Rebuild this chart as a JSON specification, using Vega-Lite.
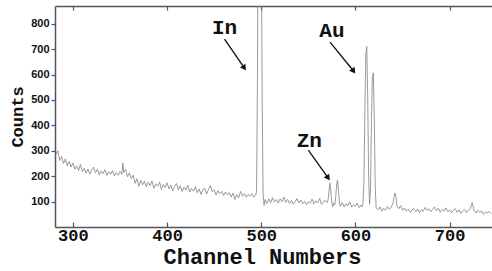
{
  "$schema": "https://vega.github.io/schema/vega-lite/v6.json",
  "width": 437,
  "height": 221,
  "autosize": {"type": "none"},
  "padding": {"left": 55, "top": 6, "right": 0, "bottom": 44},
  "background": "white",
  "config": {"view": {"stroke": null}},
  "datasets": {
    "spectrum": [
      {"ch":282,"counts":285},{"ch":284,"counts":300},{"ch":286,"counts":262},{"ch":288,"counts":278},{"ch":290,"counts":250},
      {"ch":292,"counts":268},{"ch":294,"counts":241},{"ch":296,"counts":258},{"ch":298,"counts":236},{"ch":300,"counts":252},
      {"ch":302,"counts":228},{"ch":304,"counts":240},{"ch":306,"counts":222},{"ch":308,"counts":246},{"ch":310,"counts":218},
      {"ch":312,"counts":231},{"ch":314,"counts":212},{"ch":316,"counts":228},{"ch":318,"counts":208},{"ch":320,"counts":224},
      {"ch":322,"counts":236},{"ch":324,"counts":214},{"ch":326,"counts":227},{"ch":328,"counts":205},{"ch":330,"counts":221},
      {"ch":332,"counts":210},{"ch":334,"counts":226},{"ch":336,"counts":203},{"ch":338,"counts":218},{"ch":340,"counts":207},
      {"ch":342,"counts":222},{"ch":344,"counts":201},{"ch":346,"counts":214},{"ch":348,"counts":204},{"ch":350,"counts":218},
      {"ch":352,"counts":208},{"ch":353,"counts":252},{"ch":354,"counts":215},{"ch":356,"counts":226},{"ch":358,"counts":198},
      {"ch":360,"counts":213},{"ch":362,"counts":191},{"ch":364,"counts":204},{"ch":366,"counts":172},{"ch":368,"counts":190},
      {"ch":370,"counts":160},{"ch":372,"counts":183},{"ch":374,"counts":166},{"ch":376,"counts":180},{"ch":378,"counts":158},
      {"ch":380,"counts":176},{"ch":382,"counts":163},{"ch":384,"counts":181},{"ch":386,"counts":152},{"ch":388,"counts":170},
      {"ch":390,"counts":160},{"ch":392,"counts":177},{"ch":394,"counts":148},{"ch":396,"counts":168},{"ch":398,"counts":155},
      {"ch":400,"counts":174},{"ch":402,"counts":150},{"ch":404,"counts":165},{"ch":406,"counts":142},{"ch":408,"counts":160},
      {"ch":410,"counts":171},{"ch":412,"counts":146},{"ch":414,"counts":162},{"ch":416,"counts":140},{"ch":418,"counts":157},
      {"ch":420,"counts":145},{"ch":422,"counts":164},{"ch":424,"counts":138},{"ch":426,"counts":152},{"ch":428,"counts":141},
      {"ch":430,"counts":158},{"ch":432,"counts":135},{"ch":434,"counts":150},{"ch":436,"counts":128},{"ch":438,"counts":147},
      {"ch":440,"counts":152},{"ch":442,"counts":130},{"ch":444,"counts":148},{"ch":446,"counts":163},{"ch":448,"counts":139},
      {"ch":450,"counts":147},{"ch":452,"counts":126},{"ch":454,"counts":143},{"ch":456,"counts":131},{"ch":458,"counts":140},
      {"ch":460,"counts":124},{"ch":462,"counts":138},{"ch":464,"counts":127},{"ch":466,"counts":135},{"ch":468,"counts":118},
      {"ch":470,"counts":133},{"ch":472,"counts":108},{"ch":474,"counts":128},{"ch":476,"counts":115},{"ch":478,"counts":140},
      {"ch":480,"counts":121},{"ch":482,"counts":131},{"ch":484,"counts":117},{"ch":486,"counts":128},{"ch":488,"counts":121},
      {"ch":490,"counts":132},{"ch":492,"counts":118},{"ch":494,"counts":125},{"ch":495,"counts":140},{"ch":496,"counts":600},
      {"ch":497,"counts":1600},{"ch":498,"counts":1900},{"ch":499,"counts":1800},{"ch":500,"counts":1200},{"ch":501,"counts":500},
      {"ch":502,"counts":130},{"ch":503,"counts":85},{"ch":504,"counts":108},{"ch":506,"counts":92},{"ch":508,"counts":110},
      {"ch":510,"counts":96},{"ch":512,"counts":115},{"ch":514,"counts":99},{"ch":516,"counts":108},{"ch":518,"counts":94},
      {"ch":520,"counts":111},{"ch":522,"counts":100},{"ch":524,"counts":118},{"ch":526,"counts":97},{"ch":528,"counts":109},
      {"ch":530,"counts":93},{"ch":532,"counts":104},{"ch":534,"counts":90},{"ch":536,"counts":99},{"ch":538,"counts":112},
      {"ch":540,"counts":95},{"ch":542,"counts":106},{"ch":544,"counts":92},{"ch":546,"counts":101},{"ch":548,"counts":88},
      {"ch":550,"counts":99},{"ch":552,"counts":94},{"ch":554,"counts":110},{"ch":556,"counts":90},{"ch":558,"counts":103},
      {"ch":560,"counts":95},{"ch":562,"counts":112},{"ch":564,"counts":89},{"ch":566,"counts":100},{"ch":568,"counts":104},
      {"ch":570,"counts":96},{"ch":571,"counts":108},{"ch":572,"counts":145},{"ch":573,"counts":173},{"ch":574,"counts":135},
      {"ch":575,"counts":92},{"ch":576,"counts":80},{"ch":577,"counts":95},{"ch":578,"counts":88},{"ch":579,"counts":115},
      {"ch":580,"counts":165},{"ch":581,"counts":185},{"ch":582,"counts":145},{"ch":583,"counts":95},{"ch":584,"counts":82},
      {"ch":586,"counts":96},{"ch":588,"counts":79},{"ch":590,"counts":91},{"ch":592,"counts":84},{"ch":594,"counts":99},
      {"ch":596,"counts":78},{"ch":598,"counts":88},{"ch":600,"counts":82},{"ch":602,"counts":94},{"ch":604,"counts":76},
      {"ch":606,"counts":86},{"ch":607,"counts":80},{"ch":608,"counts":92},{"ch":609,"counts":180},{"ch":610,"counts":450},
      {"ch":611,"counts":680},{"ch":612,"counts":710},{"ch":613,"counts":520},{"ch":614,"counts":200},{"ch":615,"counts":90},
      {"ch":616,"counts":150},{"ch":617,"counts":420},{"ch":618,"counts":590},{"ch":619,"counts":607},{"ch":620,"counts":430},
      {"ch":621,"counts":160},{"ch":622,"counts":75},{"ch":624,"counts":68},{"ch":626,"counts":79},{"ch":628,"counts":62},
      {"ch":630,"counts":74},{"ch":632,"counts":66},{"ch":634,"counts":81},{"ch":636,"counts":70},{"ch":638,"counts":78},
      {"ch":640,"counts":95},{"ch":641,"counts":120},{"ch":642,"counts":134},{"ch":643,"counts":118},{"ch":644,"counts":85},
      {"ch":646,"counts":72},{"ch":648,"counts":84},{"ch":650,"counts":66},{"ch":652,"counts":75},{"ch":654,"counts":62},
      {"ch":656,"counts":70},{"ch":658,"counts":58},{"ch":660,"counts":67},{"ch":662,"counts":73},{"ch":664,"counts":60},
      {"ch":666,"counts":71},{"ch":668,"counts":56},{"ch":670,"counts":68},{"ch":672,"counts":62},{"ch":674,"counts":77},
      {"ch":676,"counts":65},{"ch":678,"counts":72},{"ch":680,"counts":60},{"ch":682,"counts":70},{"ch":684,"counts":79},
      {"ch":686,"counts":64},{"ch":688,"counts":74},{"ch":690,"counts":58},{"ch":692,"counts":69},{"ch":694,"counts":62},
      {"ch":696,"counts":75},{"ch":698,"counts":60},{"ch":700,"counts":67},{"ch":702,"counts":56},{"ch":704,"counts":66},
      {"ch":706,"counts":72},{"ch":708,"counts":58},{"ch":710,"counts":68},{"ch":712,"counts":54},{"ch":714,"counts":63},
      {"ch":716,"counts":70},{"ch":718,"counts":56},{"ch":720,"counts":66},{"ch":722,"counts":72},{"ch":723,"counts":85},
      {"ch":724,"counts":96},{"ch":725,"counts":80},{"ch":726,"counts":64},{"ch":728,"counts":55},{"ch":730,"counts":66},
      {"ch":732,"counts":58},{"ch":734,"counts":63},{"ch":736,"counts":50},{"ch":738,"counts":60},{"ch":740,"counts":54},
      {"ch":742,"counts":62},{"ch":744,"counts":52}
    ],
    "labels": [
      {"label":"In","x":461,"y":783},
      {"label":"Au","x":575,"y":772},
      {"label":"Zn","x":551,"y":339}
    ],
    "arrows": [
      {"name":"In","x":461,"y":740,"x2":482,"y2":626},
      {"name":"Au","x":573,"y":728,"x2":598,"y2":614},
      {"name":"Zn","x":550,"y":303,"x2":571,"y2":193}
    ]
  },
  "resolve": {"axis": {"x": "independent", "y": "independent"}},
  "layer": [
    {
      "data": {"name": "spectrum"},
      "mark": {"type": "line", "color": "#808080", "strokeWidth": 0.8, "clip": true},
      "encoding": {
        "x": {"field": "ch", "type": "quantitative",
          "scale": {"domain": [281, 745], "nice": false, "zero": false},
          "axis": {"orient": "bottom", "title": "Channel Numbers", "values": [300,400,500,600,700],
            "grid": false, "domainColor": "#555", "domainWidth": 1.5, "tickColor": "#555", "tickSize": -5, "tickWidth": 1.2,
            "labelFont": "Liberation Mono", "labelFontWeight": "bold", "labelFontSize": 17, "labelColor": "#111", "labelPadding": 5,
            "titleFont": "Liberation Mono", "titleFontWeight": "bold", "titleFontSize": 22, "titleColor": "#111", "titlePadding": 3,
            "titleX": 207, "titleAnchor": "middle", "titleAlign": "center"}},
        "y": {"field": "counts", "type": "quantitative",
          "scale": {"domain": [0, 870], "nice": false},
          "axis": {"orient": "left", "title": "Counts", "values": [100,200,300,400,500,600,700,800],
            "grid": false, "domainColor": "#555", "domainWidth": 1.5, "tickColor": "#555", "tickSize": 4, "tickWidth": 1.2,
            "labelFont": "Liberation Sans", "labelFontWeight": "bold", "labelFontSize": 11, "labelColor": "#111", "labelPadding": 2,
            "titleFont": "Liberation Mono", "titleFontWeight": "bold", "titleFontSize": 17, "titleColor": "#111", "titlePadding": 4}}
      }
    },
    {
      "data": {"name": "labels"},
      "mark": {"type": "text", "font": "Liberation Mono", "fontWeight": "bold", "fontSize": 21, "color": "#111", "baseline": "middle", "align": "center"},
      "encoding": {
        "x": {"field": "x", "type": "quantitative",
          "axis": {"orient": "top", "title": null, "labels": false, "values": [300,400,500,600,700],
            "grid": false, "domainColor": "#555", "domainWidth": 1.5, "tickColor": "#555", "tickSize": -4, "tickWidth": 1.2}},
        "y": {"field": "y", "type": "quantitative", "axis": null},
        "text": {"field": "label"}
      }
    },
    {
      "data": {"name": "arrows"},
      "mark": {"type": "rule", "color": "#111", "strokeWidth": 1.3},
      "encoding": {
        "x": {"field": "x", "type": "quantitative", "axis": null},
        "y": {"field": "y", "type": "quantitative", "axis": null},
        "x2": {"field": "x2"},
        "y2": {"field": "y2"}
      }
    },
    {
      "data": {"name": "arrows"},
      "transform": [{"filter": "datum.name == 'In'"}],
      "mark": {"type": "point", "shape": "triangle-up", "filled": true, "color": "#111", "size": 45, "angle": 145, "opacity": 1},
      "encoding": {
        "x": {"field": "x2", "type": "quantitative", "axis": null},
        "y": {"field": "y2", "type": "quantitative", "axis": null}
      }
    },
    {
      "data": {"name": "arrows"},
      "transform": [{"filter": "datum.name != 'In'"}],
      "mark": {"type": "point", "shape": "triangle-up", "filled": true, "color": "#111", "size": 45, "angle": 144, "opacity": 1},
      "encoding": {
        "x": {"field": "x2", "type": "quantitative", "axis": null},
        "y": {"field": "y2", "type": "quantitative", "axis": null}
      }
    }
  ]
}
